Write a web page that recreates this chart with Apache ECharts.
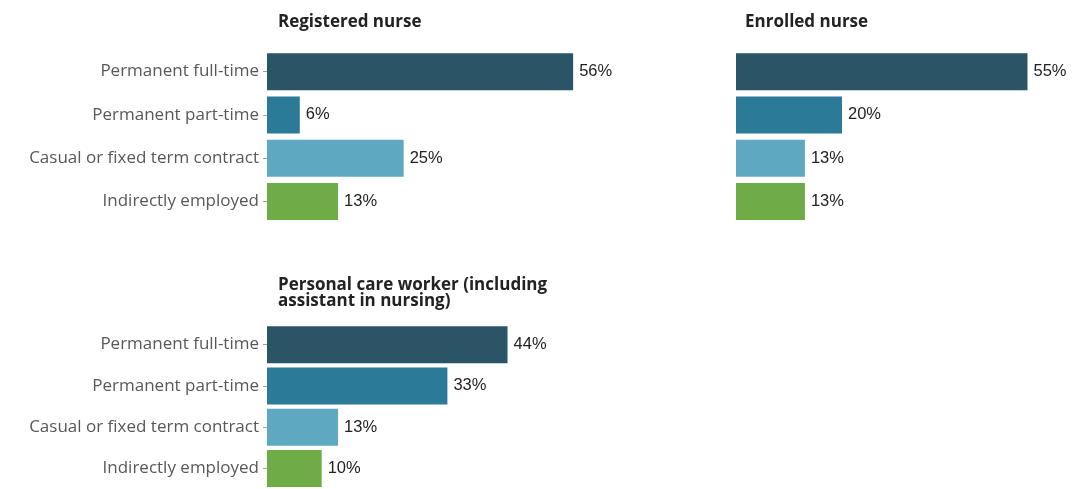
<!DOCTYPE html>
<html>
<head>
<meta charset="utf-8">
<script src="https://cdn.jsdelivr.net/npm/echarts@6/dist/echarts.min.js"></script>
<style>
  html, body { margin: 0; padding: 0; background: #ffffff; }
  #chart { width: 1075px; height: 489px; }
</style>
</head>
<body>
<div id="chart"></div>
<script>
// Employment arrangement categories (top to bottom)
const categories = [
  'Permanent full-time',
  'Permanent part-time',
  'Casual or fixed term contract',
  'Indirectly employed'
];

// Share of workers (%) per occupation
const registeredNurse = [56, 6, 25, 13];
const enrolledNurse = [55, 20, 13, 13];
const personalCareWorker = [44, 33, 13, 10];

const panelTitles = [
  'Registered nurse',
  'Enrolled nurse',
  'Personal care worker (including\nassistant in nursing)'
];

const barColors = ['#2a5566', '#2b7b98', '#5ea8c2', '#6eac45'];

const panels = [registeredNurse, enrolledNurse, personalCareWorker];

const grids = [
  { left: 267, top: 50, width: 328, height: 173 },
  { left: 736, top: 50, width: 318, height: 173 },
  { left: 267, top: 324, width: 328, height: 173 }
];

const titleStyle = {
  fontFamily: 'Open Sans',
  fontWeight: 'bold',
  fontSize: 17,
  color: '#222222',
  lineHeight: 16
};

const option = {
  backgroundColor: '#ffffff',
  animation: false,
  title: [
    { text: panelTitles[0], left: 278, top: 14, padding: 0, textStyle: titleStyle },
    { text: panelTitles[1], left: 745, top: 14, padding: 0, textStyle: titleStyle },
    { text: panelTitles[2], left: 278, top: 277, padding: 0, textStyle: titleStyle }
  ],
  grid: grids,
  xAxis: grids.map((g, i) => ({
    type: 'value',
    gridIndex: i,
    min: 0,
    max: 60,
    show: false
  })),
  yAxis: grids.map((g, i) => ({
    type: 'category',
    gridIndex: i,
    data: categories,
    inverse: true,
    axisLine: { show: false },
    axisTick: {
      show: i !== 1,
      length: 4,
      alignWithLabel: true,
      lineStyle: { color: '#a0a0a0' }
    },
    axisLabel: {
      show: i !== 1,
      margin: 8,
      fontFamily: 'Open Sans',
      fontSize: 17,
      color: '#585858'
    }
  })),
  series: panels.map((vals, i) => ({
    type: 'bar',
    xAxisIndex: i,
    yAxisIndex: i,
    barWidth: 37,
    data: vals.map((v, k) => ({ value: v, itemStyle: { color: barColors[k] } })),
    label: {
      show: true,
      position: 'right',
      distance: 6,
      formatter: '{c}%',
      fontFamily: 'Liberation Sans',
      fontSize: 16.5,
      color: '#222222'
    }
  }))
};

const chart = echarts.init(document.getElementById('chart'), null, { renderer: 'canvas' });
chart.setOption(option);
</script>
</body>
</html>
